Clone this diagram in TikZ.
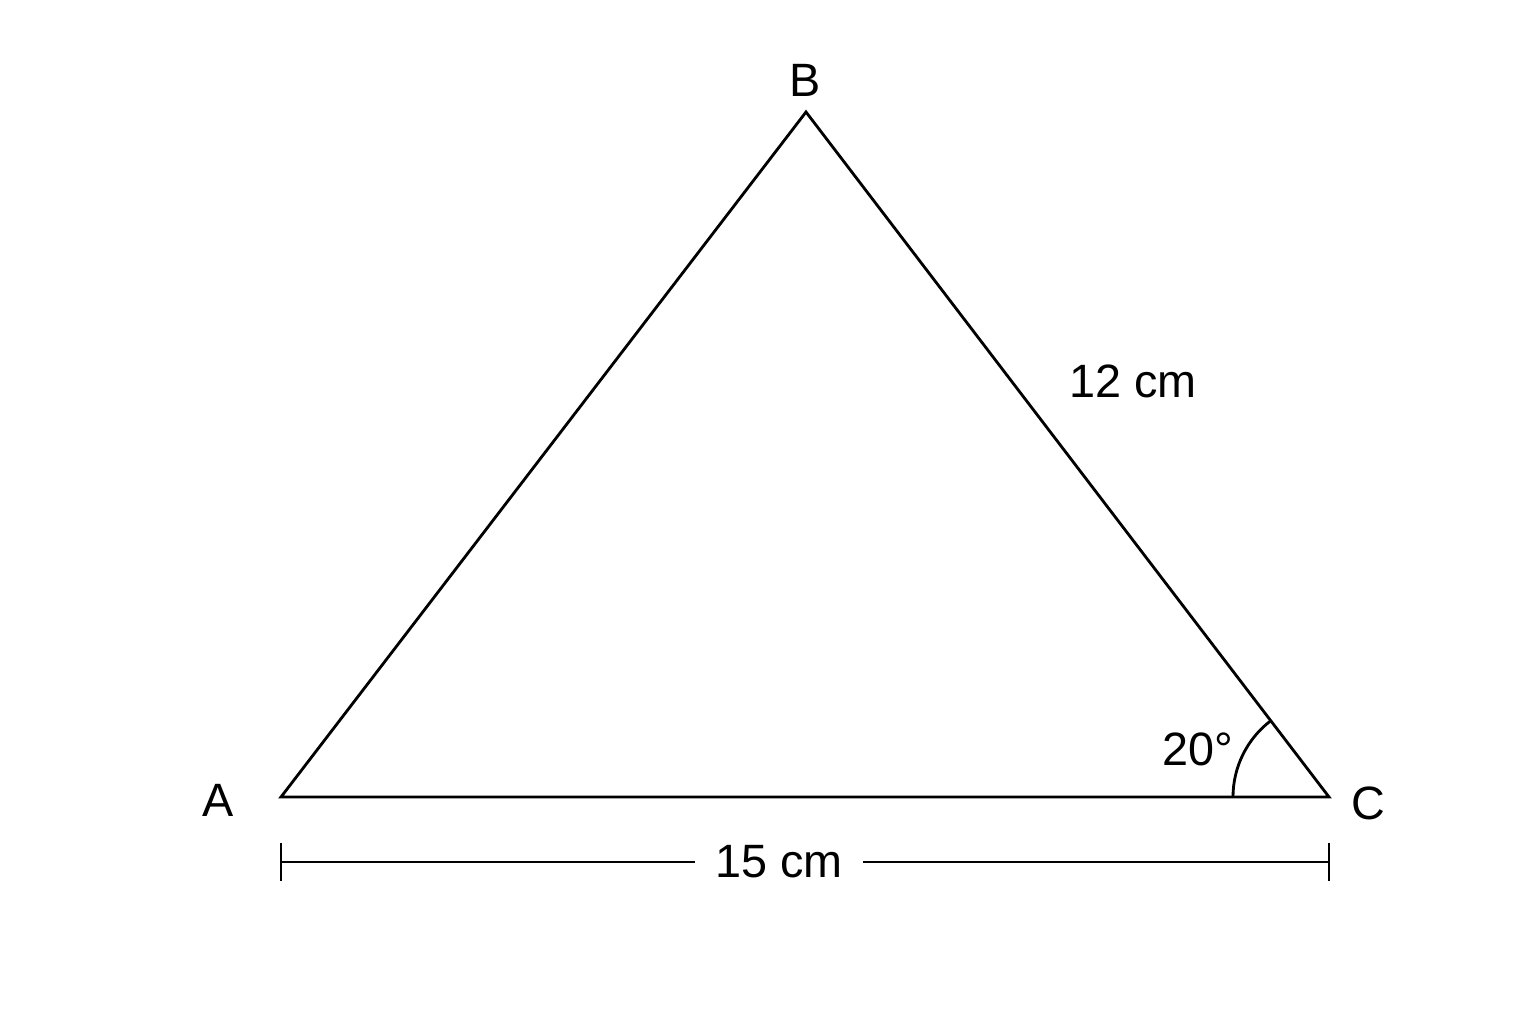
\documentclass[tikz,border=0pt]{standalone}
\usepackage{fontspec}
\setmainfont{Liberation Sans}
\begin{document}
\begin{tikzpicture}[x=0.01cm, y=-0.01cm, line width=0.8pt,
    lbl/.style={font=\fontsize{13.3}{16}\selectfont, inner sep=0pt}]

  \useasboundingbox (0,0) rectangle (1536,1024);

  % vertices
  \coordinate (A) at (281,797);
  \coordinate (B) at (806,112);
  \coordinate (C) at (1329,797);

  % triangle
  \draw (A) -- (B) -- (C) -- cycle;

  % vertex labels
  \node [lbl] (label-A) at (218,800) {A};
  \node [lbl] (label-B) at (805,80) {B};
  \node [lbl] (label-C) at (1368,803) {C};

  % side and angle
  \node [lbl] (side-BC) at (1133,381) {12 cm};
  \draw (C) ++(180:96) arc [start angle=180, end angle=232.6, radius=96];
  \node [lbl] (angle-C) at (1198,749) {20°};

  % dimension line
  \coordinate (dim-A) at (281,862);
  \coordinate (dim-C) at (1329,862);
  \node [lbl, inner xsep=0.19cm] (side-AC) at (779,862) {15 cm};
  \draw (dim-A) -- (side-AC.west);
  \draw (side-AC.east) -- (dim-C);
  \foreach \p in {dim-A,dim-C}
      \draw (\p) ++(0,-19) -- ++(0,38);

\end{tikzpicture}
\end{document}
